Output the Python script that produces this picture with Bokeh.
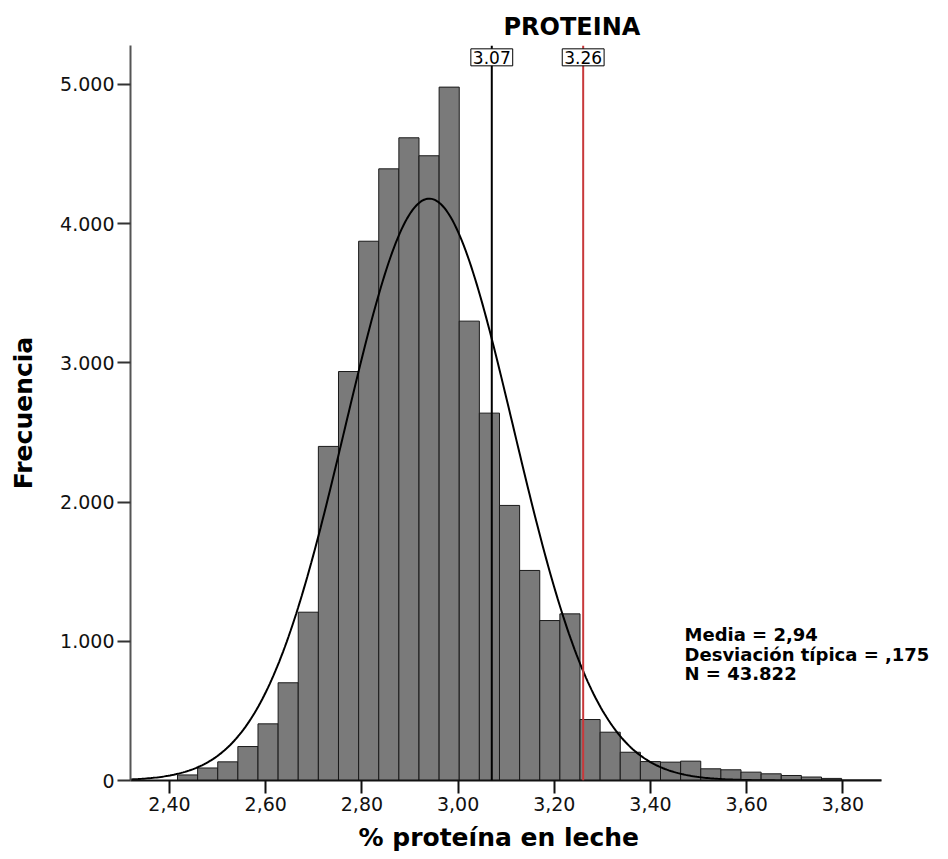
import numpy as np
from bokeh.plotting import figure
from bokeh.models import Span, Label, FixedTicker, CustomJSTickFormatter, Title
from bokeh.embed import file_html
from bokeh.resources import INLINE

# ---- data ----
BIN_START = 2.4166
BIN_WIDTH = 0.04184
counts = [40, 90, 134, 244, 407, 702, 1209, 2400, 2938, 3874, 4394, 4617, 4488,
          4981, 3300, 2639, 1976, 1509, 1149, 1197, 438, 347, 203, 136, 132, 139,
          84, 77, 60, 48, 36, 25, 15]
x_ticks = [2.4, 2.6, 2.8, 3.0, 3.2, 3.4, 3.6, 3.8]
x_tick_labels = ["2,40", "2,60", "2,80", "3,00", "3,20", "3,40", "3,60", "3,80"]
y_ticks = [0, 1000, 2000, 3000, 4000, 5000]
y_tick_labels = ["0", "1.000", "2.000", "3.000", "4.000", "5.000"]
ref_values = [3.07, 3.26]
ref_labels = ["3.07", "3.26"]
ref_colors = ["#000000", "#c8383a"]
MEAN, SD, N_OBS = 2.94, 0.175, 43822
stats_lines = ["Media = 2,94", "Desviación típica = ,175", "N = 43.822"]
title_text = "PROTEINA"
x_label = "% proteína en leche"
y_label = "Frecuencia"

AXIS_START, AXIS_END = 2.3189, 3.880   # extent of the drawn x axis
X_VIEW_END = 4.0195                     # frame extends to the page edge for the stats text
Y_RANGE = (0, 5280)

FONT = "DejaVu Sans"

p = figure(width=948, height=859, x_range=(AXIS_START, X_VIEW_END), y_range=Y_RANGE,
           output_backend="svg", toolbar_location=None, title=title_text,
           min_border_left=130, min_border_right=0, min_border_top=45,
           min_border_bottom=79)
p.outline_line_color = None
p.background_fill_color = "white"
p.border_fill_color = "white"
p.xgrid.visible = False
p.ygrid.visible = False

p.title.text_font = FONT
p.title.text_font_size = "24px"
p.title.text_font_style = "bold"
p.title.text_color = "black"
p.title.align = "left"
p.title.offset = 373
p.title.standoff = 9

# bars
lefts = [BIN_START + i * BIN_WIDTH for i in range(len(counts))]
rights = [l + BIN_WIDTH for l in lefts]
p.quad(left=lefts, right=rights, bottom=0, top=counts,
       fill_color="#7a7a7a", line_color="#1a1a1a", line_width=1)

# fitted normal curve from the stated mean, sd and N
xs = np.linspace(AXIS_START, AXIS_END, 400)
ys = N_OBS * BIN_WIDTH / (SD * np.sqrt(2 * np.pi)) * np.exp(-0.5 * ((xs - MEAN) / SD) ** 2)
p.line(xs, ys, line_color="black", line_width=2)

# reference lines with boxed labels
for v, t, c in zip(ref_values, ref_labels, ref_colors):
    p.add_layout(Span(location=v, dimension="height", line_color=c, line_width=2))
for v, t in zip(ref_values, ref_labels):
    p.add_layout(Label(x=v, y=5195, text=t, text_align="center", text_baseline="middle",
                       text_font=FONT, text_font_size="17px", text_color="black",
                       background_fill_color="white", border_line_color="black",
                       border_line_width=1, padding=2))

# statistics text
for i, s in enumerate(stats_lines):
    p.add_layout(Label(x=3.4707, y=[1049, 905, 769][i], text=s, text_align="left",
                       text_baseline="alphabetic", text_font=FONT, text_font_size="18px",
                       text_font_style="bold", text_color="black"))

LOOKUP = """
let best = 0, bd = Infinity;
for (let i = 0; i < tvals.length; i++) { const d = Math.abs(tvals[i] - tick); if (d < bd) { bd = d; best = i; } }
return tlabels[best];
"""

# axes
p.xaxis.ticker = FixedTicker(ticks=x_ticks)
p.xaxis.formatter = CustomJSTickFormatter(args=dict(tvals=x_ticks, tlabels=x_tick_labels), code=LOOKUP)
p.xaxis.bounds = (AXIS_START, AXIS_END)
p.yaxis.ticker = FixedTicker(ticks=y_ticks)
p.yaxis.formatter = CustomJSTickFormatter(args=dict(tvals=y_ticks, tlabels=y_tick_labels), code=LOOKUP)

for ax in (p.xaxis[0], p.yaxis[0]):
    ax.major_tick_in = 0
    ax.major_tick_out = 13
    ax.minor_tick_line_color = None
    ax.major_label_text_font = FONT
    ax.major_label_text_font_size = "19px"
    ax.major_label_text_color = "#111111"
    ax.major_label_standoff = 3
    ax.axis_label_text_font = FONT
    ax.axis_label_text_font_size = "25px"
    ax.axis_label_text_font_style = "bold"
    ax.axis_label_text_color = "black"

p.yaxis.axis_label_standoff = 19
p.yaxis.axis_label = y_label

# x-axis title centred under the drawn axis (not the widened frame)
p.add_layout(Title(text=x_label, align="left", offset=228, text_font=FONT,
                   text_font_size="25px", text_font_style="bold", text_color="black",
                   standoff=14), "below")

p.xaxis.axis_line_color = "#111111"
p.xaxis.axis_line_width = 2
p.xaxis.major_tick_line_color = "#111111"
p.xaxis.major_tick_line_width = 2
p.yaxis.axis_line_color = "#555555"
p.yaxis.axis_line_width = 2
p.yaxis.major_tick_line_color = "#333333"
p.yaxis.major_tick_line_width = 2

open("out.html", "w").write(file_html(p, INLINE))
